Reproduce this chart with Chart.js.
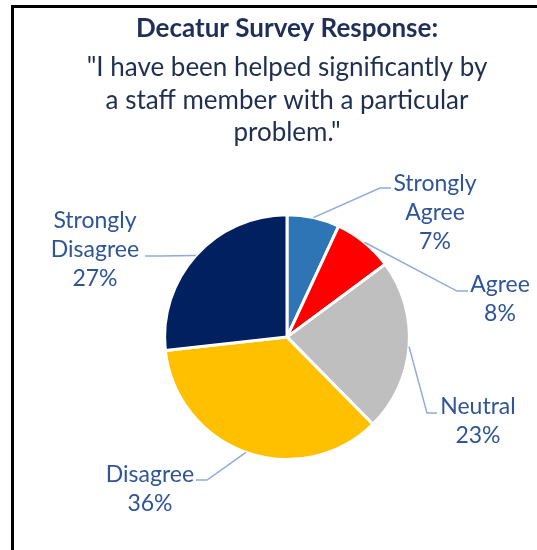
<!DOCTYPE html>
<html>
<head>
<meta charset="utf-8">
<title>Decatur Survey Response</title>
<script src="https://cdn.jsdelivr.net/npm/chart.js@4"></script>
<style>
  html, body { margin: 0; padding: 0; background: #fff; overflow: hidden; }
  #wrap { position: relative; width: 537px; height: 550px; }
  #frame { position: absolute; left: 11px; top: 5px; width: 600px; height: 600px; border: 3px solid #000; pointer-events: none; }
</style>
</head>
<body>
<div id="wrap">
  <canvas id="myChart" width="537" height="550"></canvas>
  <div id="frame"></div>
</div>
<script>
  var answers = ['Strongly Agree', 'Agree', 'Neutral', 'Disagree', 'Strongly Disagree'];
  var percents = [7, 8, 23, 36, 27];
  var sliceColors = ['#2E75B6', '#FF0000', '#BFBFBF', '#FFC000', '#002060'];

  // where each callout sits, as offsets from the pie centre:
  // text = middle of the text block, elbow = bend of the leader, end = tip of the leader
  var callouts = [
    { text: [148, -125], elbow: [93, -149], end: [104, -149] },
    { text: [213, -38], elbow: [170, -46], end: [181, -46] },
    { text: [191, 84], elbow: [140, 76], end: [150, 76] },
    { text: [-137, 152], elbow: [-80, 143], end: [-91, 143] },
    { text: [-192, -88], elbow: [-127, -81], end: [-142, -81] }
  ];

  var calloutPlugin = {
    id: 'callouts',
    afterDatasetsDraw: function(chart) {
      var ctx = chart.ctx;
      var meta = chart.getDatasetMeta(0);
      ctx.save();
      meta.data.forEach(function(arc, i) {
        var p = arc.getProps(['x', 'y', 'startAngle', 'endAngle', 'outerRadius'], true);
        var mid = (p.startAngle + p.endAngle) / 2;
        var sx = p.x + Math.cos(mid) * p.outerRadius;
        var sy = p.y + Math.sin(mid) * p.outerRadius;
        var c = callouts[i];

        ctx.strokeStyle = '#8FAADC';
        ctx.lineWidth = 1.5;
        ctx.beginPath();
        ctx.moveTo(sx, sy);
        ctx.lineTo(p.x + c.elbow[0], p.y + c.elbow[1]);
        ctx.lineTo(p.x + c.end[0], p.y + c.end[1]);
        ctx.stroke();

        var lines = answers[i].split(' ').concat([percents[i] + '%']);
        var lh = 29;
        var top = p.y + c.text[1] - (lines.length - 1) * lh / 2;
        ctx.font = '23px Lato';
        ctx.fillStyle = '#2F5597';
        ctx.textAlign = 'center';
        ctx.textBaseline = 'middle';
        lines.forEach(function(t, j) {
          ctx.fillText(t, p.x + c.text[0], top + j * lh);
        });
      });
      ctx.restore();
    }
  };

  var ctx = document.getElementById('myChart').getContext('2d');
  var chart = new Chart(ctx, {
    type: 'pie',
    data: {
      labels: answers,
      datasets: [{
        data: percents,
        backgroundColor: sliceColors,
        borderColor: '#fff',
        borderWidth: 3
      }]
    },
    options: {
      responsive: false,
      animation: false,
      layout: {
        padding: { top: 0, left: 50, right: 13, bottom: 89 }
      },
      plugins: {
        legend: { display: false },
        tooltip: { enabled: false },
        title: {
          display: true,
          text: 'Decatur Survey Response:',
          color: '#1F2F57',
          font: { family: 'Lato', size: 26, weight: 'bold', lineHeight: 1.2 },
          padding: { top: 13, bottom: 0 }
        },
        subtitle: {
          display: true,
          text: ['"I have been helped significantly by', 'a staff member with a particular', 'problem."'],
          color: '#1F2F4F',
          font: { family: 'Lato', size: 26, lineHeight: 1.25 },
          padding: { top: 7.5, bottom: 64 }
        }
      }
    },
    plugins: [calloutPlugin]
  });
</script>
</body>
</html>
